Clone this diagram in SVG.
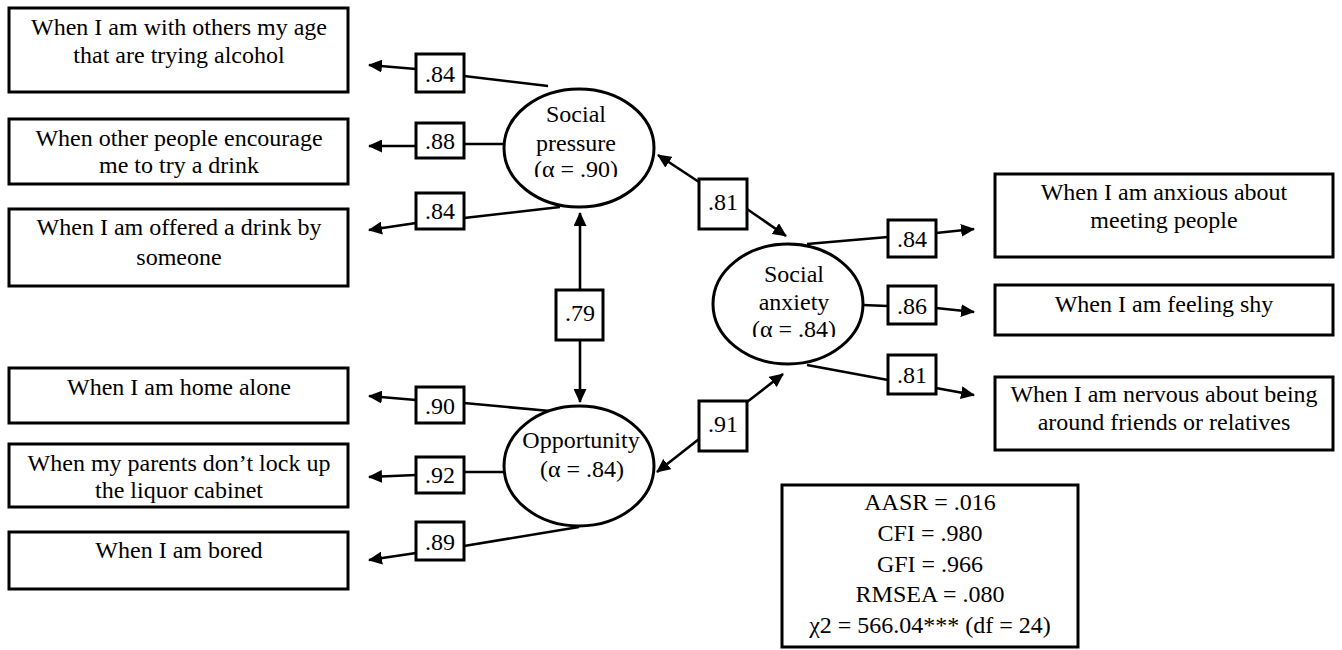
<svg xmlns="http://www.w3.org/2000/svg" width="1342" height="650" viewBox="0 0 1342 650">
<style>
  text { font-family: "Liberation Serif", "Times New Roman", serif; font-size: 24px; fill: #000; text-anchor: middle; }
  .box { fill: #fff; stroke: #000; stroke-width: 3; }
  .lbl { fill: #fff; stroke: #000; stroke-width: 3; }
  .lat { fill: #fff; stroke: #000; stroke-width: 3; }
  .con { fill: none; stroke: #000; stroke-width: 2.6; }
  .arr { marker-end: url(#ah); }
</style>
<defs>
  <marker id="ah" markerUnits="userSpaceOnUse" viewBox="0 0 14 13" refX="13" refY="6.5" markerWidth="14" markerHeight="13" orient="auto">
    <path d="M0,0 L14,6.5 L0,13 Z" fill="#000"/>
  </marker>
  <clipPath id="clipSP"><rect x="500" y="80" width="160" height="97"/></clipPath>
  <clipPath id="clipSA"><rect x="705" y="238" width="165" height="99"/></clipPath>
</defs>
<rect width="1342" height="650" fill="#fff"/>

<g id="connectors">
  <path class="con" d="M548,86 L464,76"/>
  <path class="con arr" d="M416,69 L369,65"/>
  <path class="con" d="M504,144 L464,144"/>
  <path class="con arr" d="M416,146 L369,146"/>
  <path class="con" d="M560,207 L464,218"/>
  <path class="con arr" d="M416,223 L369,230"/>
  <path class="con" d="M550,411 L464,403"/>
  <path class="con arr" d="M416,400 L369,396"/>
  <path class="con" d="M504,472 L464,472"/>
  <path class="con arr" d="M416,475 L369,477"/>
  <path class="con" d="M579,527 L464,546"/>
  <path class="con arr" d="M416,553 L369,560"/>
  <path class="con" d="M807,244 L888,237"/>
  <path class="con arr" d="M936,233 L974,229"/>
  <path class="con" d="M862,305 L888,306"/>
  <path class="con arr" d="M936,308 L974,312"/>
  <path class="con" d="M807,365 L888,380"/>
  <path class="con arr" d="M936,388 L974,395"/>
  <path class="con arr" d="M699,182 L658,155"/>
  <path class="con arr" d="M747,209 L786,236"/>
  <path class="con arr" d="M580,290 L580,213"/>
  <path class="con arr" d="M580,340 L580,402"/>
  <path class="con arr" d="M747,402 L783,374"/>
  <path class="con arr" d="M699,439 L657,472"/>
</g>

<g id="labels">
  <g id="l-sp1"><rect class="lbl" x="416" y="54" width="48" height="38"/><text x="440" y="82">.84</text></g>
  <g id="l-sp2"><rect class="lbl" x="416" y="123" width="48" height="35"/><text x="440" y="149">.88</text></g>
  <g id="l-sp3"><rect class="lbl" x="416" y="193" width="48" height="36"/><text x="440" y="219">.84</text></g>
  <g id="l-op1"><rect class="lbl" x="416" y="387" width="48" height="36"/><text x="440" y="414">.90</text></g>
  <g id="l-op2"><rect class="lbl" x="416" y="457" width="48" height="36"/><text x="440" y="483">.92</text></g>
  <g id="l-op3"><rect class="lbl" x="416" y="522" width="48" height="38"/><text x="440" y="550">.89</text></g>
  <g id="l-sa1"><rect class="lbl" x="888" y="220" width="48" height="37"/><text x="912" y="247">.84</text></g>
  <g id="l-sa2"><rect class="lbl" x="888" y="286" width="48" height="38"/><text x="912" y="314">.86</text></g>
  <g id="l-sa3"><rect class="lbl" x="888" y="355" width="48" height="39"/><text x="912" y="383">.81</text></g>
  <g id="l-spsa"><rect class="lbl" x="699" y="179" width="48" height="50"/><text x="723" y="210">.81</text></g>
  <g id="l-spop"><rect class="lbl" x="556" y="290" width="47" height="50"/><text x="580" y="321">.79</text></g>
  <g id="l-opsa"><rect class="lbl" x="699" y="401" width="48" height="50"/><text x="723" y="432">.91</text></g>
</g>

<g id="social-pressure">
  <ellipse class="lat" cx="579" cy="148" rx="75" ry="59"/>
  <g clip-path="url(#clipSP)">
    <text x="576" y="122">Social</text>
    <text x="576" y="151">pressure</text>
    <text x="576" y="177">(α = .90)</text>
  </g>
</g>

<g id="opportunity">
  <ellipse class="lat" cx="579" cy="466" rx="75" ry="60"/>
  <text x="581" y="448">Opportunity</text>
  <text x="582" y="477">(α = .84)</text>
</g>

<g id="social-anxiety">
  <ellipse class="lat" cx="788" cy="304" rx="75" ry="60"/>
  <g clip-path="url(#clipSA)">
    <text x="794" y="282">Social</text>
    <text x="794" y="310">anxiety</text>
    <text x="794" y="337">(α = .84)</text>
  </g>
</g>

<g id="item-sp1"><rect class="box" x="9" y="8" width="339" height="84"/>
  <text x="179" y="35">When I am with others my age</text><text x="179" y="63">that are trying alcohol</text></g>
<g id="item-sp2"><rect class="box" x="9" y="119" width="339" height="65"/>
  <text x="179" y="146">When other people encourage</text><text x="179" y="173">me to try a drink</text></g>
<g id="item-sp3"><rect class="box" x="9" y="209" width="339" height="77"/>
  <text x="179" y="235">When I am offered a drink by</text><text x="179" y="265">someone</text></g>

<g id="item-op1"><rect class="box" x="9" y="368" width="339" height="55"/>
  <text x="179" y="395">When I am home alone</text></g>
<g id="item-op2"><rect class="box" x="9" y="444" width="339" height="63"/>
  <text x="179" y="471">When my parents don’t lock up</text><text x="179" y="498">the liquor cabinet</text></g>
<g id="item-op3"><rect class="box" x="9" y="532" width="339" height="57"/>
  <text x="179" y="558">When I am bored</text></g>

<g id="item-sa1"><rect class="box" x="995" y="174" width="338" height="83"/>
  <text x="1164" y="200">When I am anxious about</text><text x="1164" y="228">meeting people</text></g>
<g id="item-sa2"><rect class="box" x="995" y="285" width="338" height="50"/>
  <text x="1164" y="312">When I am feeling shy</text></g>
<g id="item-sa3"><rect class="box" x="995" y="377" width="338" height="73"/>
  <text x="1164" y="402">When I am nervous about being</text><text x="1164" y="430">around friends or relatives</text></g>

<g id="fit-indices"><rect class="box" x="782" y="485" width="296" height="162"/>
  <text x="930" y="510">AASR = .016</text>
  <text x="930" y="541">CFI = .980</text>
  <text x="930" y="572">GFI = .966</text>
  <text x="930" y="602">RMSEA = .080</text>
  <text x="930" y="633">χ2 = 566.04*** (df = 24)</text>
</g>
</svg>
